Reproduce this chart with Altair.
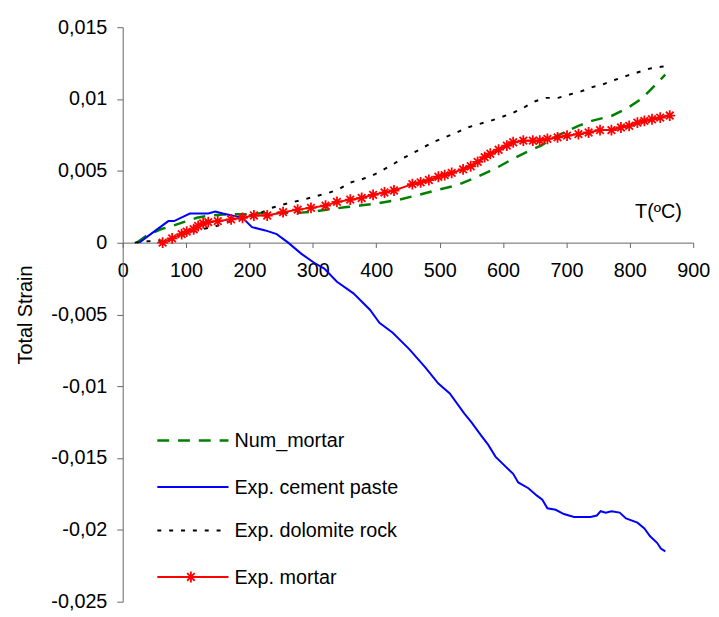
import altair as alt
import pandas as pd

FONT = "Liberation Sans"

SERIES = ["Num_mortar", "Exp. cement paste", "Exp. dolomite rock", "Exp. mortar"]

X_TICKS = [0, 100, 200, 300, 400, 500, 600, 700, 800, 900]
Y_TICKS = [-0.025, -0.02, -0.015, -0.01, -0.005, 0, 0.005, 0.01, 0.015]

# Num_mortar (green dashed)
T_NUM = [22, 40, 60, 78, 96, 117, 137, 158, 194, 220, 250, 282, 305, 328, 350, 374, 405,
         436, 467, 498, 529, 560, 573, 588, 616, 637, 660, 686, 719, 740, 771, 797, 817,
         833, 856]
S_NUM = [0.0, 0.00055, 0.00093, 0.00116, 0.00143, 0.00173, 0.00189, 0.00196, 0.00198,
         0.00205, 0.00207, 0.00209, 0.00218, 0.00233, 0.00246, 0.00258, 0.00276, 0.00299,
         0.00333, 0.00368, 0.00402, 0.00459, 0.00486, 0.00516, 0.00585, 0.0063, 0.00676,
         0.00745, 0.00813, 0.00848, 0.00882, 0.00939, 0.00997, 0.01065, 0.0117]

# Exp. cement paste (blue)
T_CEM = [26, 72, 81, 106, 135, 146, 158, 189, 204, 225, 243, 261, 282, 302, 318, 338, 364,
         390, 405, 426, 452, 477, 498, 516, 539, 550, 565, 577, 588, 616, 624, 640, 653,
         662, 670, 683, 696, 712, 738, 748, 754, 762, 771, 784, 794, 812, 823, 832, 843,
         849, 856]
S_CEM = [0.0, 0.0015, 0.0015, 0.00203, 0.00203, 0.00217, 0.00203, 0.00173, 0.00108,
         0.00085, 0.00059, 0.0, -0.00078, -0.0014, -0.00181, -0.00272, -0.00353, -0.00467,
         -0.00558, -0.00627, -0.00741, -0.00867, -0.00981, -0.0105, -0.0119, -0.0125,
         -0.0134, -0.0141, -0.0149, -0.0161, -0.0167, -0.0171, -0.0176, -0.0179, -0.0185,
         -0.0186, -0.0189, -0.0191, -0.0191, -0.019, -0.0187, -0.0188, -0.0187, -0.0188,
         -0.0192, -0.0195, -0.0199, -0.02045, -0.0209, -0.0213, -0.0215]

# Exp. dolomite rock (black dotted)
T_DOL = [19, 40, 70, 100, 124, 145, 171, 200, 220, 235, 253, 271, 289, 307, 325, 341, 359,
         377, 395, 410, 426, 441, 459, 475, 493, 511, 527, 544, 562, 580, 598, 616, 634,
         651, 668, 687, 705, 723, 741, 760, 777, 796, 813, 832, 849, 860]
S_DOL = [0.0, 0.0001, 0.00015, 0.0006, 0.00093, 0.00112, 0.0015, 0.0019, 0.00212, 0.00242,
         0.00265, 0.00285, 0.00304, 0.00326, 0.00347, 0.00372, 0.00418, 0.00441, 0.0047,
         0.00505, 0.00544, 0.00585, 0.00626, 0.00665, 0.00706, 0.00738, 0.00767, 0.00802,
         0.00825, 0.00848, 0.00875, 0.00905, 0.00944, 0.00985, 0.01008, 0.01008, 0.01031,
         0.01053, 0.01083, 0.01106, 0.01134, 0.01163, 0.01186, 0.01213, 0.01225, 0.0123]

# Exp. mortar (red with asterisks)
T_MOR = [63, 78, 93, 101, 112, 119, 127, 135, 150, 171, 189, 207, 228, 253, 276, 297, 320,
         338, 359, 377, 395, 413, 428, 457, 470, 483, 498, 508, 519, 537, 549, 560, 571,
         580, 593, 606, 616, 632, 647, 658, 670, 686, 701, 719, 735, 753, 771, 786, 799,
         812, 823, 835, 848, 863]
S_MOR = [0.0, 0.0003, 0.00059, 0.00077, 0.00093, 0.00116, 0.00134, 0.00143, 0.0015,
         0.00162, 0.00173, 0.00189, 0.00189, 0.00212, 0.0023, 0.00242, 0.00258, 0.00284,
         0.00299, 0.00311, 0.00333, 0.00349, 0.00363, 0.00407, 0.0042, 0.00436, 0.00459,
         0.0047, 0.00486, 0.0051, 0.00532, 0.00562, 0.00596, 0.00619, 0.00647, 0.00676,
         0.00699, 0.0071, 0.0071, 0.0071, 0.00722, 0.00733, 0.00745, 0.00756, 0.00767,
         0.00784, 0.00784, 0.00802, 0.00813, 0.00836, 0.00848, 0.00859, 0.0087, 0.00885]

W, H = 577, 581
PAD_L, PAD_T, PAD_R, PAD_B = 116, 16, 18, 7
AXIS_COLOR = "#666666"

x_scale = alt.Scale(domain=[0, 900], nice=False, zero=False)
y_scale = alt.Scale(domain=[-0.025, 0.015], nice=False, zero=False)
zero_px = H * 0.015 / 0.04

x_axis = alt.Axis(
    values=X_TICKS, offset=-(H - zero_px), grid=False,
    tickSize=5, tickColor=AXIS_COLOR, domainColor=AXIS_COLOR,
    labelFont=FONT, labelFontSize=20, labelColor="black", labelPadding=13,
    labelFlush=False, labelOverlap=False,
    title="T(ºC)", titleFont=FONT, titleFontSize=20, titleFontWeight="normal",
    titleColor="black", titleX=565, titleY=-25, titleAlign="right",
    titleBaseline="alphabetic",
)
y_axis = alt.Axis(
    values=Y_TICKS, grid=False,
    tickSize=6, tickColor=AXIS_COLOR, domainColor=AXIS_COLOR,
    labelFont=FONT, labelFontSize=20, labelColor="black", labelPadding=10,
    labelFlush=False, labelOverlap=False,
    labelExpr="(datum.value < 0 ? '-' : '') + replace(format(abs(datum.value), '~f'), '.', ',')",
    title="Total Strain", titleFont=FONT, titleFontSize=20, titleFontWeight="normal",
    titleColor="black", titleX=-92, titleY=H / 2, titleAngle=270, titleAlign="center",
    titleBaseline="alphabetic",
)

ASTER = "M-1,0L1,0M0,-1L0,1M-0.7,-0.7L0.7,0.7M-0.7,0.7L0.7,-0.7"

STYLES = {
    "Num_mortar": dict(color="#008000", strokeDash=[12, 9], strokeWidth=2.5),
    "Exp. cement paste": dict(color="#0000FF", strokeWidth=2),
    "Exp. dolomite rock": dict(color="black", strokeDash=[4, 8], strokeWidth=2),
    "Exp. mortar": dict(color="#FF0000", strokeWidth=2),
}
DATA = {
    "Num_mortar": (T_NUM, S_NUM),
    "Exp. cement paste": (T_CEM, S_CEM),
    "Exp. dolomite rock": (T_DOL, S_DOL),
    "Exp. mortar": (T_MOR, S_MOR),
}

layers = []
for name in SERIES:
    t, s = DATA[name]
    df = pd.DataFrame({"T": t, "S": s})
    base = alt.Chart(df).encode(
        x=alt.X("T:Q", scale=x_scale, axis=x_axis),
        y=alt.Y("S:Q", scale=y_scale, axis=y_axis),
    )
    layers.append(base.mark_line(**STYLES[name]))
    if name == "Exp. mortar":
        layers.append(base.mark_point(shape=ASTER, filled=False, color="#FF0000",
                                      strokeWidth=1.8, size=120, opacity=1))

# manual legend (rows placed in plot pixels)
LEG_Y = [418, 465, 509, 556]
for i, name in enumerate(SERIES):
    d = pd.DataFrame({"label": [name]})
    st = STYLES[name]
    rule_kw = dict(color=st["color"], strokeWidth=st["strokeWidth"])
    if "strokeDash" in st:
        rule_kw["strokeDash"] = st["strokeDash"]
    layers.append(alt.Chart(d).mark_rule(**rule_kw).encode(
        x=alt.value(35), x2=alt.value(107), y=alt.value(LEG_Y[i])))
    layers.append(alt.Chart(d).mark_text(align="left", baseline="middle", font=FONT,
                                         fontSize=20, color="black").encode(
        x=alt.value(113), y=alt.value(LEG_Y[i] + 1), text="label:N"))
    if name == "Exp. mortar":
        layers.append(alt.Chart(d).mark_point(shape=ASTER, filled=False, color="#FF0000",
                                              strokeWidth=1.8, size=120, opacity=1).encode(
            x=alt.value(69), y=alt.value(LEG_Y[i])))

chart = alt.layer(*layers).properties(
    width=W, height=H,
    autosize=alt.AutoSizeParams(type="none"),
    padding={"left": PAD_L, "top": PAD_T, "right": PAD_R, "bottom": PAD_B},
    background="white",
).configure_view(stroke=None)

chart.save("out.html", embed_options={"renderer": "svg", "actions": False})
